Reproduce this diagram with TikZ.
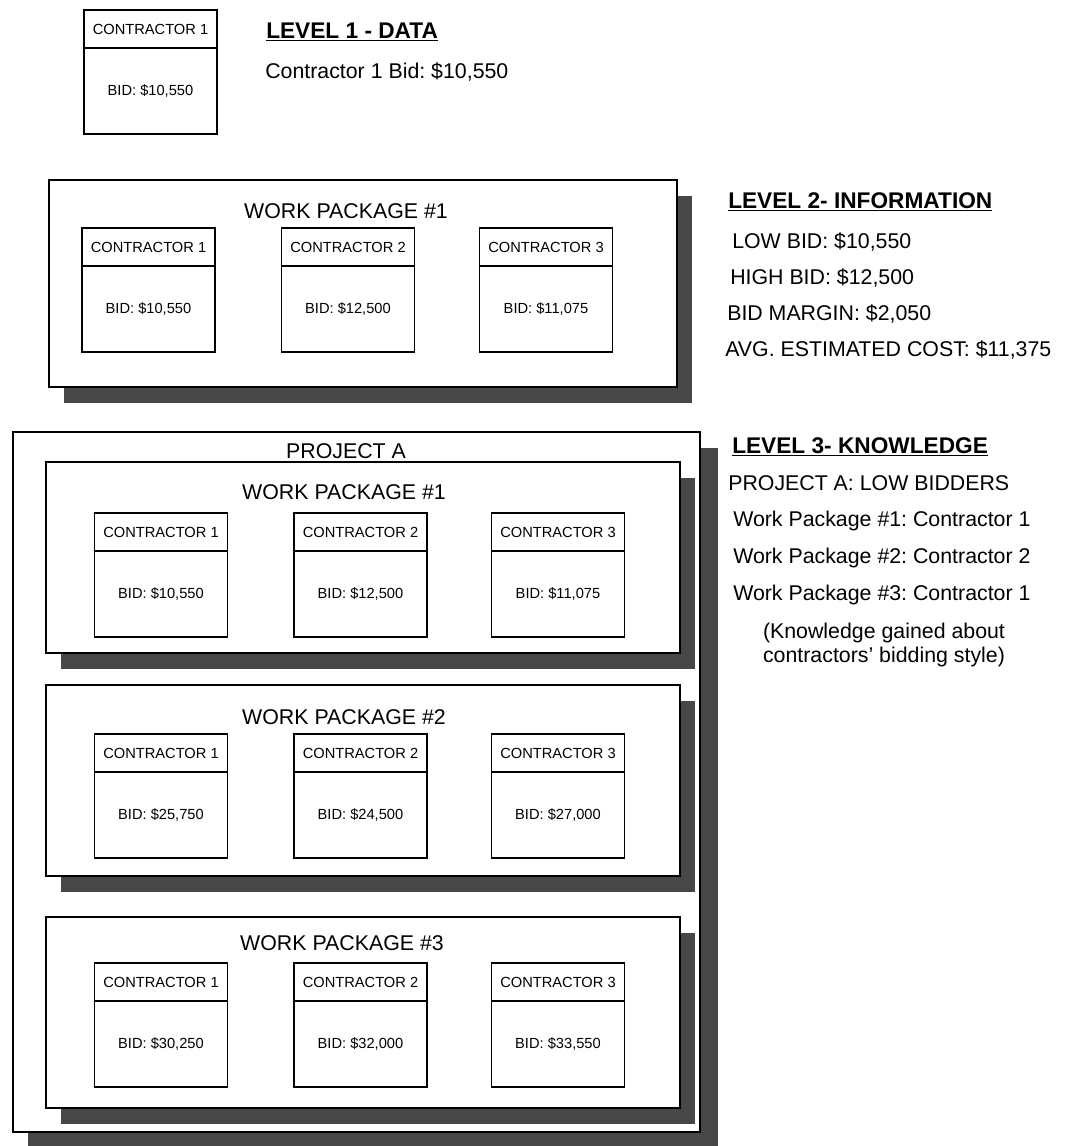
\documentclass[tikz,border=0pt]{standalone}
\usepackage{fontspec}
\setmainfont{Liberation Sans}
\frenchspacing
\usetikzlibrary{positioning, shadows}
\tikzset{
  chead/.style={rectangle, draw, line width=0.9pt, outer sep=0pt, inner sep=0pt,
                minimum width=99.75pt, minimum height=28.5pt,
                text centered, font=\fontsize{11}{12}\selectfont},
  cbody/.style={chead, minimum height=64.5pt},
  wpbox/.style={rectangle, draw, line width=0.9pt, fill=white,
                minimum width=475.5pt, minimum height=143.25pt,
                drop shadow={shadow xshift=11.25pt, shadow yshift=-12pt,
                             fill=black!72, opacity=1}},
  wptitle/.style={inner sep=0pt, font=\fontsize{16}{18}\selectfont}
}

\begin{document}
\begin{tikzpicture}[x=0.75pt, y=-0.75pt,
  sidetxt/.style={anchor=west, inner sep=0pt, font=\fontsize{16}{18}\selectfont},
  sidehead/.style={anchor=west, inner sep=0pt, font=\fontsize{17}{18}\selectfont\bfseries},
  projbox/.style={wpbox, minimum width=515.25pt, minimum height=525pt,
                  drop shadow={shadow xshift=13.5pt, shadow yshift=-12pt,
                               fill=black!72, opacity=1}}
]
  \useasboundingbox (0,0) rectangle (1066,1146);

  % Level 1
  \node[chead, anchor=north] (d1h) at (150.5,10) {CONTRACTOR 1};
  \node[cbody, below=0pt of d1h] (d1b) {BID: \$10,550};
  \node[sidehead] (lvl1) at (266,32) {\underline{LEVEL 1 - DATA}};
  \node[sidetxt]  (lvl1a) at (265,72) {Contractor 1 Bid: \$10,550};

  % Level 2
  \node[wpbox, minimum width=471pt, minimum height=155.25pt] (info) at (363,283.5) {};
  \node[wptitle] (infot) at (346,211) {WORK PACKAGE \#1};
  \node[chead, anchor=north] (i1h) at (148.5,228) {CONTRACTOR 1};
  \node[cbody, below=0pt of i1h] (i1b) {BID: \$10,550};
  \node[chead, anchor=north] (i2h) at (348,228) {CONTRACTOR 2};
  \node[cbody, below=0pt of i2h] (i2b) {BID: \$12,500};
  \node[chead, anchor=north] (i3h) at (546,228) {CONTRACTOR 3};
  \node[cbody, below=0pt of i3h] (i3b) {BID: \$11,075};

  \node[sidehead] (lvl2)  at (728,202) {\underline{LEVEL 2- INFORMATION}};
  \node[sidetxt]  (lvl2a) at (732,242) {LOW BID: \$10,550};
  \node[sidetxt]  (lvl2b) at (730,278) {HIGH BID: \$12,500};
  \node[sidetxt]  (lvl2c) at (727,314) {BID MARGIN: \$2,050};
  \node[sidetxt]  (lvl2d) at (725,350) {AVG. ESTIMATED COST: \$11,375};

  % Level 3
  \node[projbox] (proj) at (356.5,782) {};
  \node[wptitle] (projt) at (346,451) {PROJECT A};

  \node[wpbox] (wp1) at (363,557.5) {};
  \node[wptitle] (wp1t) at (344,492) {WORK PACKAGE \#1};
  \node[chead, anchor=north] (a1h) at (161,513) {CONTRACTOR 1};
  \node[cbody, below=0pt of a1h] (a1b) {BID: \$10,550};
  \node[chead, anchor=north] (a2h) at (360.5,513) {CONTRACTOR 2};
  \node[cbody, below=0pt of a2h] (a2b) {BID: \$12,500};
  \node[chead, anchor=north] (a3h) at (558,513) {CONTRACTOR 3};
  \node[cbody, below=0pt of a3h] (a3b) {BID: \$11,075};

  \node[wpbox] (wp2) at (363,780.5) {};
  \node[wptitle] (wp2t) at (344,717) {WORK PACKAGE \#2};
  \node[chead, anchor=north] (b1h) at (161,734) {CONTRACTOR 1};
  \node[cbody, below=0pt of b1h] (b1b) {BID: \$25,750};
  \node[chead, anchor=north] (b2h) at (360.5,734) {CONTRACTOR 2};
  \node[cbody, below=0pt of b2h] (b2b) {BID: \$24,500};
  \node[chead, anchor=north] (b3h) at (558,734) {CONTRACTOR 3};
  \node[cbody, below=0pt of b3h] (b3b) {BID: \$27,000};

  \node[wpbox] (wp3) at (363,1012.5) {};
  \node[wptitle] (wp3t) at (342,943) {WORK PACKAGE \#3};
  \node[chead, anchor=north] (e1h) at (161,963) {CONTRACTOR 1};
  \node[cbody, below=0pt of e1h] (e1b) {BID: \$30,250};
  \node[chead, anchor=north] (e2h) at (360.5,963) {CONTRACTOR 2};
  \node[cbody, below=0pt of e2h] (e2b) {BID: \$32,000};
  \node[chead, anchor=north] (e3h) at (558,963) {CONTRACTOR 3};
  \node[cbody, below=0pt of e3h] (e3b) {BID: \$33,550};

  \node[sidehead] (lvl3)  at (732,447) {\underline{LEVEL 3- KNOWLEDGE}};
  \node[sidetxt]  (lvl3a) at (728,483) {PROJECT A: LOW BIDDERS};
  \node[sidetxt]  (lvl3b) at (733,521) {Work Package \#1: Contractor 1};
  \node[sidetxt]  (lvl3c) at (733,558) {Work Package \#2: Contractor 2};
  \node[sidetxt]  (lvl3d) at (733,595) {Work Package \#3: Contractor 1};
  \node[inner sep=0pt, align=center, font=\fontsize{16}{18}\selectfont]
    (lvl3e) at (884,645) {(Knowledge gained about\\contractors' bidding style)};

\end{tikzpicture}
\end{document}
